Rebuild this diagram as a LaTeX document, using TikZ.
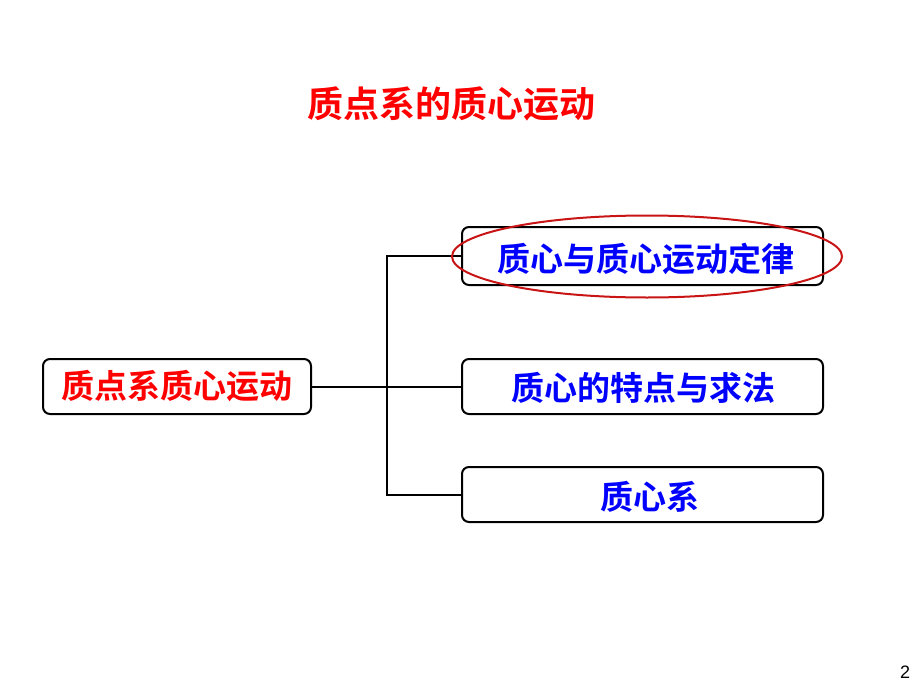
\documentclass[tikz,border=0pt]{standalone}
\usepackage{fontspec}
\setmainfont{Liberation Sans}
\newfontfamily\cjk{Noto Sans CJK SC}[BoldFont={Noto Sans CJK SC Bold}]
\begin{document}
\begin{tikzpicture}[x=1pt,y=-1pt,
  box/.style={draw=black,line width=2pt,rounded corners=7pt,fill=white,inner sep=0pt},
  conn/.style={draw=black,line width=2pt},
  lbl/.style={font=\cjk\bfseries\fontsize{33}{36}\selectfont}]
\useasboundingbox (0,0) rectangle (920,690);
\node[lbl,text=red,font=\cjk\bfseries\fontsize{36}{40}\selectfont] (title) at (451,104) {质点系的质心运动};
\node[box,minimum width=268pt,minimum height=55pt] (root) at (177,386.5) {};
\node[lbl,text=red] at (root) {质点系质心运动};
\node[box,minimum width=361pt,minimum height=58pt] (a) at (642.5,256) {};
\node[box,minimum width=361pt,minimum height=55pt] (b) at (642.5,386.5) {};
\node[box,minimum width=361pt,minimum height=55pt] (c) at (642.5,494.5) {};
\node[lbl,text=blue] (at) at (646,259) {质心与质心运动定律};
\node[lbl,text=blue] (bt) at (643,388) {质心的特点与求法};
\node[lbl,text=blue] (ct) at (650,497) {质心系};
\coordinate (j) at (387,386.5);
\draw[conn] (root.east) -- (j);
\draw[conn] (a.west) -| (j) |- (c.west);
\draw[conn] (j) -- (b.west);
\draw[draw={rgb,255:red,200;green,20;blue,20},line width=2pt] (647,256.5) ellipse [x radius=195pt,y radius=41pt];
\node[font=\fontsize{18}{20}\selectfont] (pg) at (905,672) {2};
\end{tikzpicture}
\end{document}
